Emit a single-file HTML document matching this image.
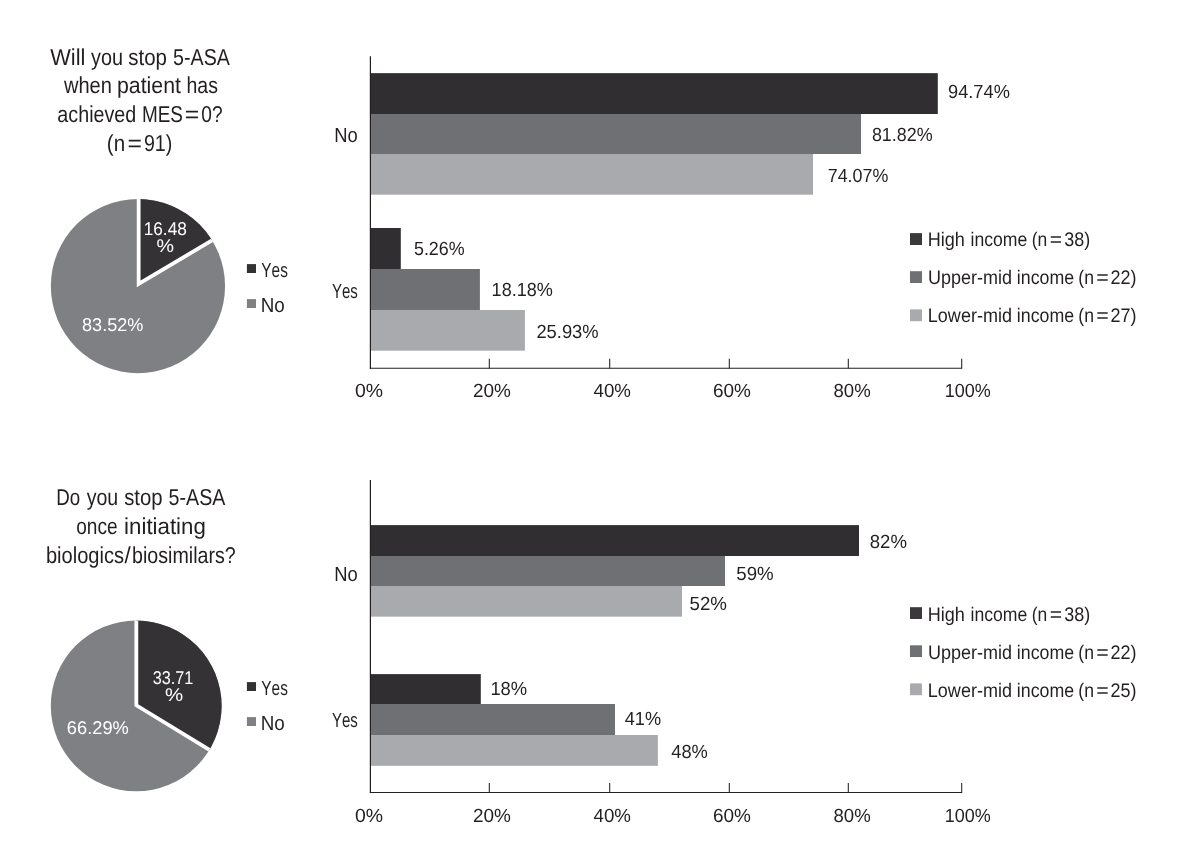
<!DOCTYPE html>
<html lang="en"><head><meta charset="utf-8"><title>5-ASA survey charts</title>
<style>
html,body{margin:0;padding:0;background:#fff;}
body{width:1179px;height:864px;overflow:hidden;}
svg{display:block;}
svg text{font-family:"Liberation Sans",Arial,Helvetica,sans-serif;font-kerning:none;white-space:pre;text-rendering:geometricPrecision;}
</style></head><body>
<svg width="1179" height="864" viewBox="0 0 1179 864">
<rect width="1179" height="864" fill="#ffffff"/>
<defs><filter id="soft" x="-5%" y="-5%" width="110%" height="110%"><feGaussianBlur stdDeviation="0.55"/></filter></defs>
<text y="65.00" font-size="23" fill="#231f20"><tspan x="50.20" textLength="35.16" lengthAdjust="spacingAndGlyphs">Will</tspan> <tspan x="91.05" textLength="31.96" lengthAdjust="spacingAndGlyphs">you</tspan> <tspan x="128.33" textLength="38.63" lengthAdjust="spacingAndGlyphs">stop</tspan> <tspan x="173.11" textLength="56.72" lengthAdjust="spacingAndGlyphs">5-ASA</tspan></text>
<text y="93.00" font-size="23" fill="#231f20"><tspan x="63.93" textLength="47.97" lengthAdjust="spacingAndGlyphs">when</tspan> <tspan x="116.93" textLength="64.03" lengthAdjust="spacingAndGlyphs">patient</tspan> <tspan x="186.45" textLength="31.46" lengthAdjust="spacingAndGlyphs">has</tspan></text>
<text y="122.00" font-size="23" fill="#231f20"><tspan x="57.36" textLength="78.91" lengthAdjust="spacingAndGlyphs">achieved</tspan> <tspan x="141.95" textLength="41.02" lengthAdjust="spacingAndGlyphs">MES</tspan> <tspan x="184.79" textLength="14.42" lengthAdjust="spacingAndGlyphs">=</tspan> <tspan x="201.25" textLength="21.26" lengthAdjust="spacingAndGlyphs">0?</tspan></text>
<text y="151.00" font-size="23" fill="#231f20"><tspan x="106.82" textLength="18.31" lengthAdjust="spacingAndGlyphs">(n</tspan> <tspan x="127.49" textLength="14.42" lengthAdjust="spacingAndGlyphs">=</tspan> <tspan x="143.88" textLength="28.44" lengthAdjust="spacingAndGlyphs">91)</tspan></text>
<text y="505.00" font-size="23" fill="#231f20"><tspan x="56.26" textLength="23.92" lengthAdjust="spacingAndGlyphs">Do</tspan> <tspan x="86.65" textLength="31.55" lengthAdjust="spacingAndGlyphs">you</tspan> <tspan x="124.13" textLength="38.42" lengthAdjust="spacingAndGlyphs">stop</tspan> <tspan x="168.61" textLength="56.72" lengthAdjust="spacingAndGlyphs">5-ASA</tspan></text>
<text y="534.00" font-size="23" fill="#231f20"><tspan x="76.20" textLength="41.35" lengthAdjust="spacingAndGlyphs">once</tspan> <tspan x="124.11" textLength="81.73" lengthAdjust="spacingAndGlyphs">initiating</tspan></text>
<text y="563.00" font-size="23" fill="#231f20"><tspan x="45.91" textLength="78.12" lengthAdjust="spacingAndGlyphs">biologics</tspan><tspan x="124.40" textLength="6.20" lengthAdjust="spacingAndGlyphs">/</tspan><tspan x="132.03" textLength="103.69" lengthAdjust="spacingAndGlyphs">biosimilars?</tspan></text>
<clipPath id="c137286"><circle cx="137.95" cy="286.1" r="87.1"/></clipPath>
<g filter="url(#soft)"><circle cx="137.95" cy="286.1" r="87.1" fill="#7f8083"/>
<g clip-path="url(#c137286)"><path d="M138.65 283.90 L138.65 190.80 L142.67 190.89 L146.67 191.15 L150.67 191.58 L154.64 192.18 L158.58 192.96 L162.48 193.90 L166.34 195.01 L170.15 196.29 L173.90 197.73 L177.58 199.33 L181.19 201.09 L184.73 203.00 L188.17 205.06 L191.53 207.27 L194.78 209.63 L197.93 212.12 L200.98 214.74 L203.90 217.49 L206.70 220.37 L209.38 223.36 L211.93 226.47 L214.33 229.68 L216.60 233.00 L218.73 236.41 Z" fill="#343135"/>
<path d="M138.65 190.79999999999998 L138.65 283.9 L218.73 236.41" fill="none" stroke="#fff" stroke-width="3.8" stroke-linejoin="miter" stroke-miterlimit="10"/></g></g>
<clipPath id="c136705"><circle cx="136.2" cy="705.9" r="85.4"/></clipPath>
<g filter="url(#soft)"><circle cx="136.2" cy="705.9" r="85.4" fill="#7f8083"/>
<g clip-path="url(#c136705)"><path d="M136.35 705.30 L136.35 613.90 L144.41 614.26 L152.40 615.32 L160.27 617.08 L167.95 619.54 L175.39 622.65 L182.52 626.42 L189.29 630.79 L195.65 635.75 L201.55 641.25 L206.94 647.24 L211.78 653.69 L216.04 660.54 L219.67 667.74 L222.66 675.23 L224.98 682.95 L226.60 690.85 L227.52 698.86 L227.74 706.92 L227.24 714.97 L226.03 722.94 L224.13 730.78 L221.54 738.42 L218.29 745.80 L214.40 752.86 Z" fill="#343135"/>
<path d="M136.35 613.9 L136.35 705.3 L214.40 752.86" fill="none" stroke="#fff" stroke-width="3.8" stroke-linejoin="miter" stroke-miterlimit="10"/></g></g>
<text x="143.69" y="235.00" font-size="18.5" fill="#ffffff" textLength="43.16" lengthAdjust="spacingAndGlyphs">16.48</text>
<text x="156.50" y="252.00" font-size="18.5" fill="#ffffff" textLength="17.50" lengthAdjust="spacingAndGlyphs">%</text>
<text x="82.01" y="331.00" font-size="18.5" fill="#ffffff" textLength="61.43" lengthAdjust="spacingAndGlyphs">83.52%</text>
<text x="152.68" y="684.00" font-size="18.5" fill="#ffffff" textLength="40.71" lengthAdjust="spacingAndGlyphs">33.71</text>
<text x="165.07" y="701.40" font-size="18.5" fill="#ffffff" textLength="18.16" lengthAdjust="spacingAndGlyphs">%</text>
<text x="66.87" y="734.00" font-size="18.5" fill="#ffffff" textLength="61.98" lengthAdjust="spacingAndGlyphs">66.29%</text>
<rect x="246.90" y="264.10" width="9.10" height="8.90" fill="#343135"/>
<rect x="246.90" y="299.10" width="9.10" height="8.90" fill="#7f8083"/>
<text x="261.36" y="277.00" font-size="20.5" fill="#231f20" textLength="26.49" lengthAdjust="spacingAndGlyphs">Yes</text>
<text x="260.76" y="312.00" font-size="20.5" fill="#231f20" textLength="24.03" lengthAdjust="spacingAndGlyphs">No</text>
<rect x="246.90" y="682.10" width="9.10" height="8.90" fill="#343135"/>
<rect x="246.90" y="717.10" width="9.10" height="8.90" fill="#7f8083"/>
<text x="261.36" y="695.00" font-size="20.5" fill="#231f20" textLength="26.49" lengthAdjust="spacingAndGlyphs">Yes</text>
<text x="260.76" y="730.00" font-size="20.5" fill="#231f20" textLength="24.03" lengthAdjust="spacingAndGlyphs">No</text>
<rect x="370.70" y="73.15" width="567.10" height="40.85" fill="#312e32"/>
<rect x="370.70" y="114.00" width="490.30" height="40.00" fill="#6f7073"/>
<rect x="370.70" y="154.00" width="442.30" height="40.70" fill="#a8aaad"/>
<rect x="370.70" y="228.00" width="30.10" height="41.00" fill="#312e32"/>
<rect x="370.70" y="269.00" width="109.20" height="41.00" fill="#6f7073"/>
<rect x="370.70" y="310.00" width="154.20" height="40.70" fill="#a8aaad"/>
<line x1="370.40" y1="56.20" x2="370.40" y2="368.75" stroke="#231f20" stroke-width="1.2"/>
<line x1="369.80" y1="368.30" x2="962.15" y2="368.30" stroke="#231f20" stroke-width="1.05"/>
<line x1="489.30" y1="358.80" x2="489.30" y2="368.30" stroke="#231f20" stroke-width="1.05"/>
<line x1="609.70" y1="358.80" x2="609.70" y2="368.30" stroke="#231f20" stroke-width="1.05"/>
<line x1="729.30" y1="358.80" x2="729.30" y2="368.30" stroke="#231f20" stroke-width="1.05"/>
<line x1="848.30" y1="358.80" x2="848.30" y2="368.30" stroke="#231f20" stroke-width="1.05"/>
<line x1="961.70" y1="358.80" x2="961.70" y2="368.30" stroke="#231f20" stroke-width="1.05"/>
<text x="334.29" y="142.00" font-size="20.5" fill="#231f20" textLength="23.48" lengthAdjust="spacingAndGlyphs">No</text>
<text x="331.97" y="298.00" font-size="20.5" fill="#231f20" textLength="25.87" lengthAdjust="spacingAndGlyphs">Yes</text>
<text x="948.05" y="98.00" font-size="19" fill="#231f20" textLength="61.80" lengthAdjust="spacingAndGlyphs">94.74%</text>
<text x="871.92" y="141.00" font-size="19" fill="#231f20" textLength="60.72" lengthAdjust="spacingAndGlyphs">81.82%</text>
<text x="827.78" y="182.00" font-size="19" fill="#231f20" textLength="60.55" lengthAdjust="spacingAndGlyphs">74.07%</text>
<text x="413.98" y="255.00" font-size="19" fill="#231f20" textLength="50.65" lengthAdjust="spacingAndGlyphs">5.26%</text>
<text x="491.62" y="296.00" font-size="19" fill="#231f20" textLength="61.32" lengthAdjust="spacingAndGlyphs">18.18%</text>
<text x="536.38" y="338.00" font-size="19" fill="#231f20" textLength="62.28" lengthAdjust="spacingAndGlyphs">25.93%</text>
<text x="354.94" y="397.00" font-size="19" fill="#231f20" textLength="28.05" lengthAdjust="spacingAndGlyphs">0%</text>
<text x="473.05" y="397.00" font-size="19" fill="#231f20" textLength="37.93" lengthAdjust="spacingAndGlyphs">20%</text>
<text x="593.57" y="397.00" font-size="19" fill="#231f20" textLength="37.39" lengthAdjust="spacingAndGlyphs">40%</text>
<text x="713.04" y="397.00" font-size="19" fill="#231f20" textLength="37.94" lengthAdjust="spacingAndGlyphs">60%</text>
<text x="833.49" y="397.00" font-size="19" fill="#231f20" textLength="37.17" lengthAdjust="spacingAndGlyphs">80%</text>
<text x="944.83" y="397.00" font-size="19" fill="#231f20" textLength="46.01" lengthAdjust="spacingAndGlyphs">100%</text>
<rect x="910.00" y="233.10" width="12.00" height="11.90" fill="#3b393c"/>
<text y="246.00" font-size="19.7" fill="#231f20"><tspan x="927.72" textLength="37.16" lengthAdjust="spacingAndGlyphs">High</tspan> <tspan x="970.52" textLength="56.76" lengthAdjust="spacingAndGlyphs">income</tspan> <tspan x="1031.72" textLength="15.52" lengthAdjust="spacingAndGlyphs">(n</tspan> <tspan x="1049.87" textLength="12.26" lengthAdjust="spacingAndGlyphs">=</tspan> <tspan x="1064.31" textLength="26.00" lengthAdjust="spacingAndGlyphs">38)</tspan></text>
<rect x="910.00" y="271.20" width="12.00" height="11.80" fill="#6f7073"/>
<text y="284.00" font-size="19.7" fill="#231f20"><tspan x="927.91" textLength="84.05" lengthAdjust="spacingAndGlyphs">Upper-mid</tspan> <tspan x="1016.81" textLength="57.28" lengthAdjust="spacingAndGlyphs">income</tspan> <tspan x="1078.31" textLength="15.63" lengthAdjust="spacingAndGlyphs">(n</tspan> <tspan x="1096.15" textLength="12.50" lengthAdjust="spacingAndGlyphs">=</tspan> <tspan x="1110.39" textLength="26.02" lengthAdjust="spacingAndGlyphs">22)</tspan></text>
<rect x="910.00" y="309.40" width="12.00" height="11.80" fill="#a8aaad"/>
<text y="322.00" font-size="19.7" fill="#231f20"><tspan x="927.82" textLength="84.14" lengthAdjust="spacingAndGlyphs">Lower-mid</tspan> <tspan x="1016.81" textLength="57.28" lengthAdjust="spacingAndGlyphs">income</tspan> <tspan x="1078.31" textLength="15.63" lengthAdjust="spacingAndGlyphs">(n</tspan> <tspan x="1096.15" textLength="12.50" lengthAdjust="spacingAndGlyphs">=</tspan> <tspan x="1110.39" textLength="26.02" lengthAdjust="spacingAndGlyphs">27)</tspan></text>
<rect x="370.70" y="525.10" width="488.30" height="30.90" fill="#312e32"/>
<rect x="370.70" y="556.00" width="354.30" height="30.00" fill="#6f7073"/>
<rect x="370.70" y="586.00" width="311.30" height="30.65" fill="#a8aaad"/>
<rect x="370.70" y="674.10" width="110.10" height="29.90" fill="#312e32"/>
<rect x="370.70" y="704.00" width="244.30" height="31.00" fill="#6f7073"/>
<rect x="370.70" y="735.00" width="287.20" height="30.80" fill="#a8aaad"/>
<line x1="370.40" y1="480.00" x2="370.40" y2="792.85" stroke="#231f20" stroke-width="1.2"/>
<line x1="369.80" y1="792.40" x2="962.15" y2="792.40" stroke="#231f20" stroke-width="1.05"/>
<line x1="489.30" y1="782.90" x2="489.30" y2="792.40" stroke="#231f20" stroke-width="1.05"/>
<line x1="609.70" y1="782.90" x2="609.70" y2="792.40" stroke="#231f20" stroke-width="1.05"/>
<line x1="729.30" y1="782.90" x2="729.30" y2="792.40" stroke="#231f20" stroke-width="1.05"/>
<line x1="848.30" y1="782.90" x2="848.30" y2="792.40" stroke="#231f20" stroke-width="1.05"/>
<line x1="961.70" y1="782.90" x2="961.70" y2="792.40" stroke="#231f20" stroke-width="1.05"/>
<text x="334.29" y="581.00" font-size="20.5" fill="#231f20" textLength="23.48" lengthAdjust="spacingAndGlyphs">No</text>
<text x="331.97" y="727.00" font-size="20.5" fill="#231f20" textLength="25.87" lengthAdjust="spacingAndGlyphs">Yes</text>
<text x="869.79" y="548.00" font-size="19" fill="#231f20" textLength="37.17" lengthAdjust="spacingAndGlyphs">82%</text>
<text x="736.25" y="580.00" font-size="19" fill="#231f20" textLength="37.41" lengthAdjust="spacingAndGlyphs">59%</text>
<text x="689.55" y="610.00" font-size="19" fill="#231f20" textLength="37.41" lengthAdjust="spacingAndGlyphs">52%</text>
<text x="490.40" y="695.00" font-size="19" fill="#231f20" textLength="36.75" lengthAdjust="spacingAndGlyphs">18%</text>
<text x="624.78" y="725.00" font-size="19" fill="#231f20" textLength="36.36" lengthAdjust="spacingAndGlyphs">41%</text>
<text x="671.28" y="758.00" font-size="19" fill="#231f20" textLength="36.57" lengthAdjust="spacingAndGlyphs">48%</text>
<text x="354.94" y="822.00" font-size="19" fill="#231f20" textLength="28.05" lengthAdjust="spacingAndGlyphs">0%</text>
<text x="473.05" y="822.00" font-size="19" fill="#231f20" textLength="37.93" lengthAdjust="spacingAndGlyphs">20%</text>
<text x="593.57" y="822.00" font-size="19" fill="#231f20" textLength="37.39" lengthAdjust="spacingAndGlyphs">40%</text>
<text x="713.04" y="822.00" font-size="19" fill="#231f20" textLength="37.94" lengthAdjust="spacingAndGlyphs">60%</text>
<text x="833.49" y="822.00" font-size="19" fill="#231f20" textLength="37.17" lengthAdjust="spacingAndGlyphs">80%</text>
<text x="944.83" y="822.00" font-size="19" fill="#231f20" textLength="46.01" lengthAdjust="spacingAndGlyphs">100%</text>
<rect x="910.00" y="607.20" width="12.00" height="11.80" fill="#3b393c"/>
<text y="621.00" font-size="19.7" fill="#231f20"><tspan x="927.72" textLength="37.16" lengthAdjust="spacingAndGlyphs">High</tspan> <tspan x="970.52" textLength="56.76" lengthAdjust="spacingAndGlyphs">income</tspan> <tspan x="1031.72" textLength="15.52" lengthAdjust="spacingAndGlyphs">(n</tspan> <tspan x="1049.87" textLength="12.26" lengthAdjust="spacingAndGlyphs">=</tspan> <tspan x="1064.31" textLength="26.00" lengthAdjust="spacingAndGlyphs">38)</tspan></text>
<rect x="910.00" y="645.30" width="12.00" height="11.70" fill="#6f7073"/>
<text y="659.00" font-size="19.7" fill="#231f20"><tspan x="927.91" textLength="84.05" lengthAdjust="spacingAndGlyphs">Upper-mid</tspan> <tspan x="1016.81" textLength="57.28" lengthAdjust="spacingAndGlyphs">income</tspan> <tspan x="1078.31" textLength="15.63" lengthAdjust="spacingAndGlyphs">(n</tspan> <tspan x="1096.15" textLength="12.50" lengthAdjust="spacingAndGlyphs">=</tspan> <tspan x="1110.39" textLength="26.02" lengthAdjust="spacingAndGlyphs">22)</tspan></text>
<rect x="910.00" y="683.40" width="12.00" height="11.80" fill="#a8aaad"/>
<text y="697.00" font-size="19.7" fill="#231f20"><tspan x="927.82" textLength="84.14" lengthAdjust="spacingAndGlyphs">Lower-mid</tspan> <tspan x="1016.81" textLength="57.28" lengthAdjust="spacingAndGlyphs">income</tspan> <tspan x="1078.31" textLength="15.63" lengthAdjust="spacingAndGlyphs">(n</tspan> <tspan x="1096.15" textLength="12.50" lengthAdjust="spacingAndGlyphs">=</tspan> <tspan x="1110.39" textLength="26.02" lengthAdjust="spacingAndGlyphs">25)</tspan></text>
</svg>
</body></html>
